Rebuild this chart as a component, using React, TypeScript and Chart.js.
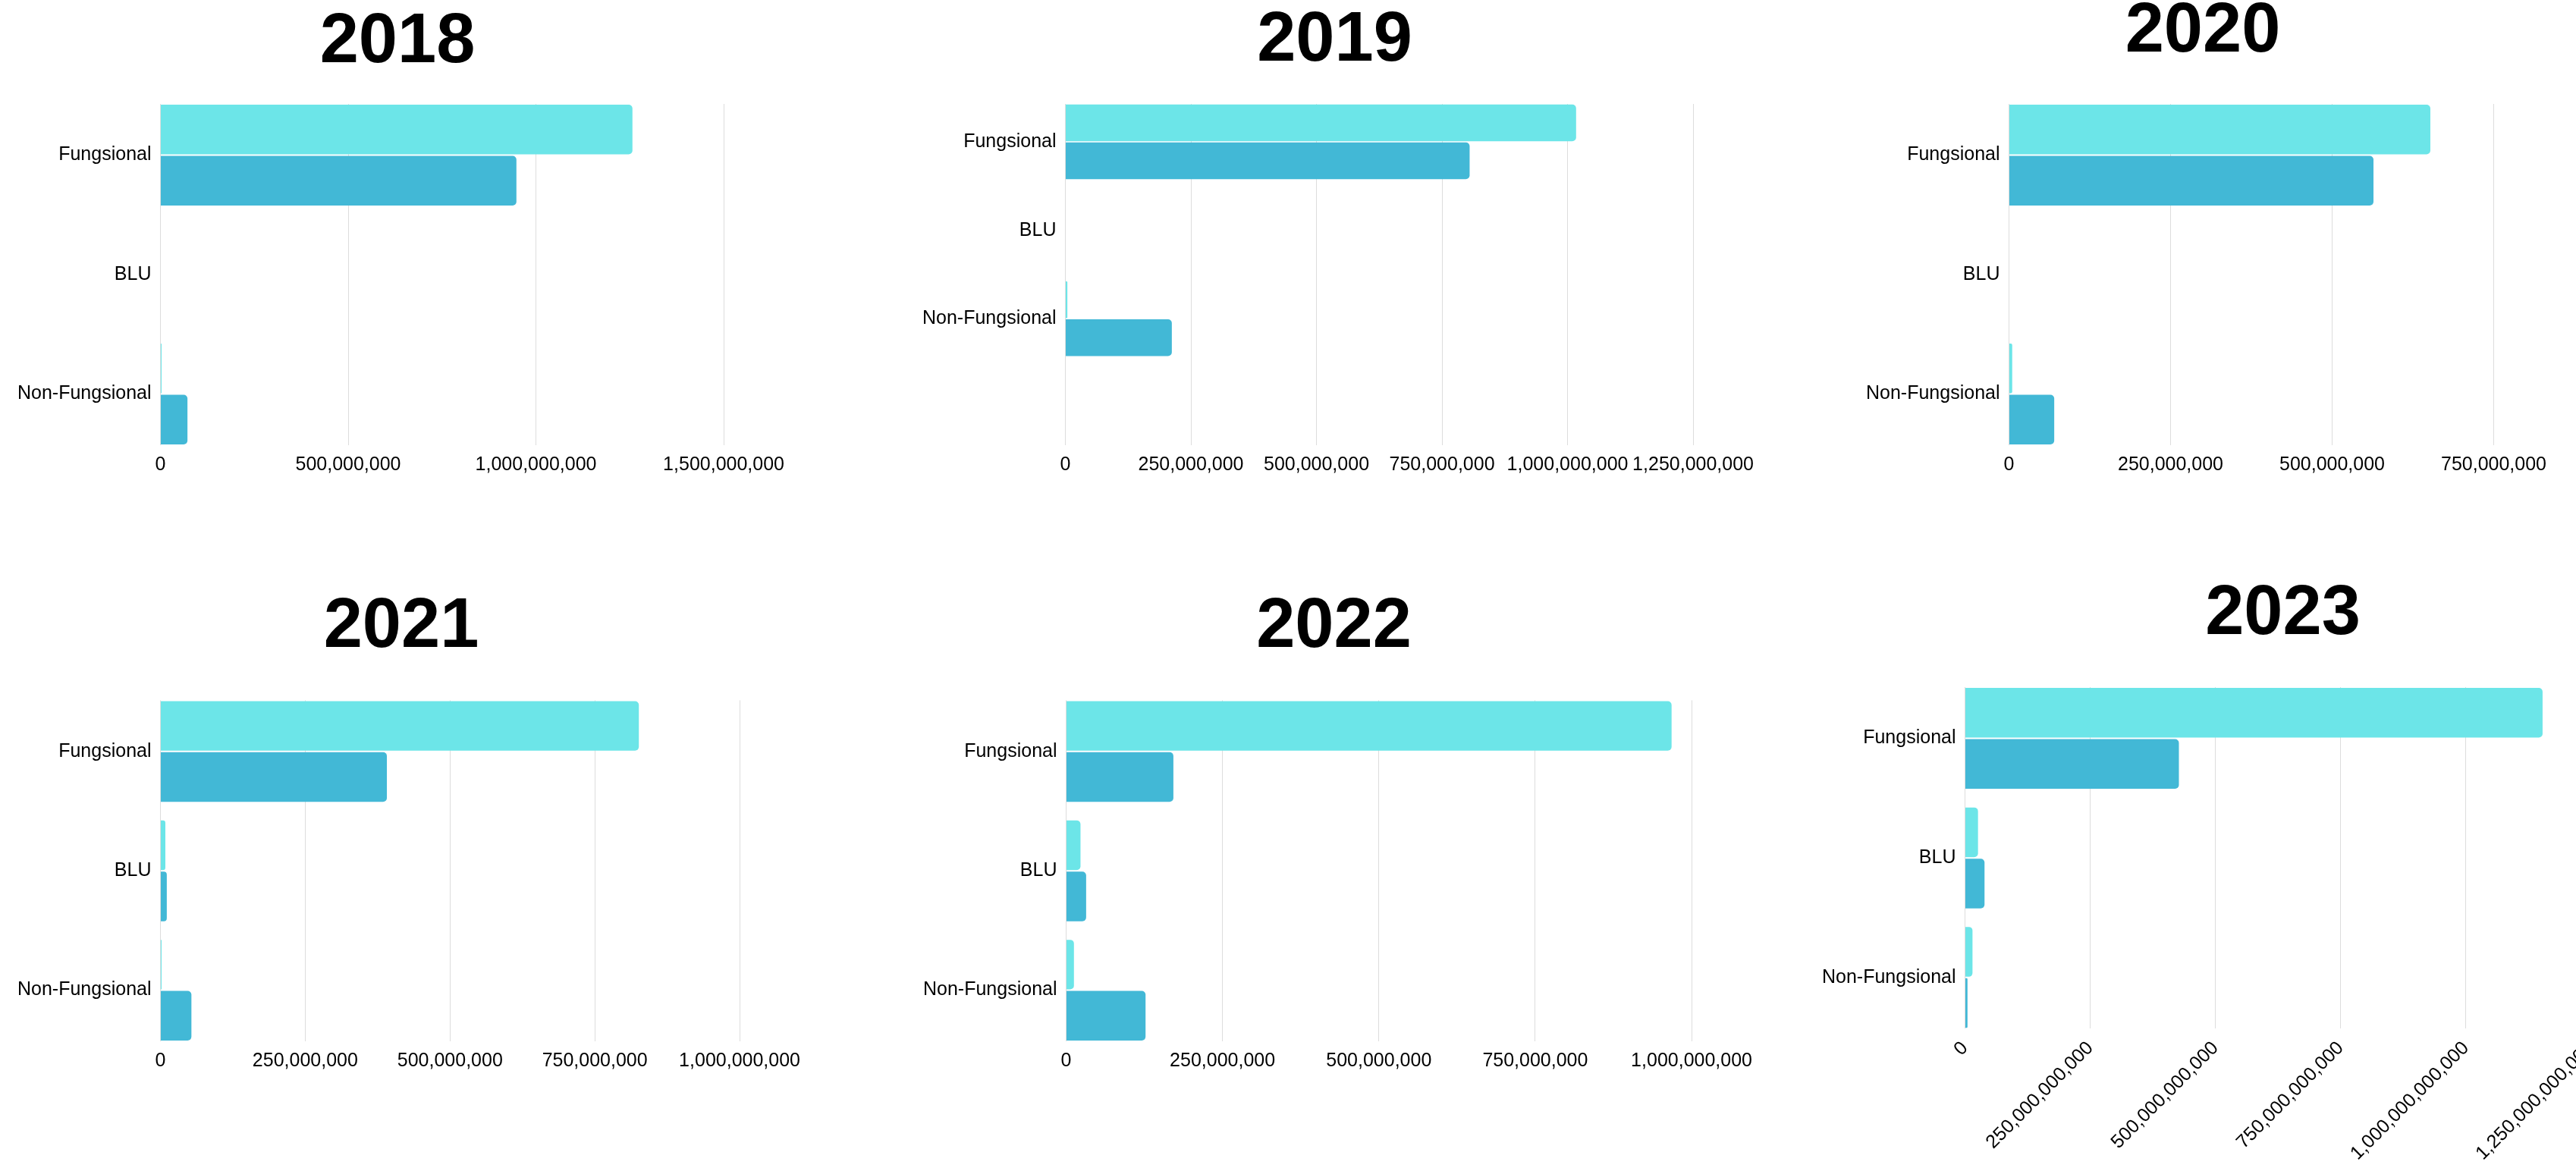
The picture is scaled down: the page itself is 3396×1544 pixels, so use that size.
import React, { useEffect, useRef } from "react";
import { Chart, registerables } from "chart.js";

Chart.register(...registerables);

// ---------- data ----------
const YEARS = ["2018", "2019", "2020", "2021", "2022", "2023"];

const CATEGORIES_2018 = ["Fungsional", "BLU", "Non-Fungsional"];
const CATEGORIES_2019 = ["Fungsional", "BLU", "Non-Fungsional", ""];
const CATEGORIES_2020 = ["Fungsional", "BLU", "Non-Fungsional"];
const CATEGORIES_2021 = ["Fungsional", "BLU", "Non-Fungsional"];
const CATEGORIES_2022 = ["Fungsional", "BLU", "Non-Fungsional"];
const CATEGORIES_2023 = ["Fungsional", "BLU", "Non-Fungsional"];

// first (light) series
const SERIES_A_2018 = [1257000000, 0, 3000000];
const SERIES_A_2019 = [1017000000, 0, 4000000, 0];
const SERIES_A_2020 = [652000000, 0, 5000000];
const SERIES_A_2021 = [826000000, 8500000, 2000000];
const SERIES_A_2022 = [968000000, 23000000, 12500000];
const SERIES_A_2023 = [1153000000000, 26000000000, 15000000000];

// second (dark) series
const SERIES_B_2018 = [948000000, 0, 72000000];
const SERIES_B_2019 = [805000000, 0, 212000000, 0];
const SERIES_B_2020 = [564000000, 0, 70000000];
const SERIES_B_2021 = [391000000, 11000000, 53500000];
const SERIES_B_2022 = [171500000, 32000000, 127000000];
const SERIES_B_2023 = [427000000000, 39000000000, 5000000000];

// value-axis ticks
const X_MAX = [1500000000, 1250000000, 750000000, 1000000000, 1000000000, 1250000000000];
const X_STEP = [500000000, 250000000, 250000000, 250000000, 250000000, 250000000000];
const X_ROTATION = [0, 0, 0, 0, 0, 45];

const SERIES_NAMES = ["Series A", "Series B"];

const CATEGORIES = [CATEGORIES_2018, CATEGORIES_2019, CATEGORIES_2020, CATEGORIES_2021, CATEGORIES_2022, CATEGORIES_2023];
const SERIES_A = [SERIES_A_2018, SERIES_A_2019, SERIES_A_2020, SERIES_A_2021, SERIES_A_2022, SERIES_A_2023];
const SERIES_B = [SERIES_B_2018, SERIES_B_2019, SERIES_B_2020, SERIES_B_2021, SERIES_B_2022, SERIES_B_2023];

// ---------- styling / layout ----------
const COLOR_A = "#6ce5e8";
const COLOR_B = "#42b8d6";
const GRID_COLOR = "#dddddd";
const FONT = "'Liberation Sans', Arial, Helvetica, sans-serif";
const GROUP_FRACTION = 6 / 7;

type Box = {
  left: number;
  top: number;
  width: number;
  height: number;
  padRight: number;
  rightBox: number;
  titleTop: number;
  titleBottom: number;
};

const BOXES: Box[] = [
  { left: 11, top: -20, width: 1026, height: 651, padRight: 0, rightBox: 0, titleTop: 21.2, titleBottom: 25.4 },
  { left: 1204, top: -20, width: 1111, height: 651, padRight: 0, rightBox: 0, titleTop: 19.4, titleBottom: 27.2 },
  { left: 2448, top: -20, width: 912, height: 651, padRight: 0, rightBox: 0, titleTop: 7.1, titleBottom: 39.5 },
  { left: 11, top: 750, width: 1047, height: 667, padRight: 11, rightBox: 0, titleTop: 22.8, titleBottom: 40.2 },
  { left: 1205, top: 750, width: 1108, height: 667, padRight: 1, rightBox: 0, titleTop: 22.8, titleBottom: 40.2 },
  { left: 2390, top: 750, width: 1239, height: 789, padRight: 0, rightBox: 213, titleTop: 5.8, titleBottom: 39.8 },
];

function YearChart({ idx }: { idx: number }) {
  const ref = useRef<HTMLCanvasElement | null>(null);

  useEffect(() => {
    if (!ref.current) return;
    const cats = CATEGORIES[idx];
    const box = BOXES[idx];
    const half = GROUP_FRACTION / 2;
    const rot = X_ROTATION[idx];
    const tickFont = { family: FONT, size: 25 };

    const scales: any = {
      x: {
        type: "linear",
        min: 0,
        max: X_MAX[idx],
        grid: {
          color: GRID_COLOR,
          drawTicks: true,
          tickLength: 8,
          tickColor: "rgba(0,0,0,0)",
        },
        border: { display: false },
        ticks: {
          stepSize: X_STEP[idx],
          autoSkip: false,
          minRotation: rot,
          maxRotation: rot,
          padding: 3,
          color: "#000",
          font: tickFont,
          callback: (v: any) => Number(v).toLocaleString("en-US"),
        },
      },
      y: {
        type: "linear",
        reverse: true,
        offset: false,
        min: -half,
        max: cats.length - 1 + half,
        grid: { display: false, drawTicks: false, offset: false },
        border: { display: false },
        ticks: {
          stepSize: 1,
          includeBounds: false,
          autoSkip: false,
          padding: 12,
          color: "#000",
          font: tickFont,
          callback: (v: any) => {
            const n = Number(v);
            return Number.isInteger(n) && n >= 0 && n < cats.length ? cats[n] : "";
          },
        },
      },
    };
    if (box.rightBox > 0) {
      scales.pad = {
        type: "linear",
        position: "right",
        display: true,
        offset: false,
        grid: { display: false, drawTicks: false },
        border: { display: false },
        ticks: { display: false },
        afterFit: (s: any) => {
          s.width = box.rightBox;
        },
      };
    }

    const chart = new Chart(ref.current, {
      type: "bar",
      data: {
        datasets: [
          {
            label: SERIES_NAMES[0],
            data: cats.map((_, i) => ({ x: SERIES_A[idx][i], y: i })),
            backgroundColor: COLOR_A,
            xAxisID: "x",
            yAxisID: "y",
          },
          {
            label: SERIES_NAMES[1],
            data: cats.map((_, i) => ({ x: SERIES_B[idx][i], y: i })),
            backgroundColor: COLOR_B,
            xAxisID: "x",
            yAxisID: "y",
          },
        ] as any,
      },
      options: {
        indexAxis: "y",
        animation: false,
        responsive: true,
        maintainAspectRatio: false,
        datasets: {
          bar: {
            barPercentage: 0.97,
            categoryPercentage: GROUP_FRACTION,
            borderRadius: 5,
            borderSkipped: "start",
          },
        } as any,
        layout: { padding: { left: 0, top: 0, bottom: 0, right: box.padRight } },
        scales,
        plugins: {
          legend: { display: false },
          tooltip: { enabled: false },
          title: {
            display: true,
            text: YEARS[idx],
            color: "#000",
            font: { family: FONT, size: 92, weight: "bold", lineHeight: 1.2 },
            padding: { top: box.titleTop, bottom: box.titleBottom },
          },
        },
      } as any,
    });
    return () => chart.destroy();
  }, [idx]);

  const box = BOXES[idx];
  return (
    <div
      style={{
        position: "absolute",
        left: box.left,
        top: box.top,
        width: box.width,
        height: box.height,
      }}
    >
      <canvas ref={ref} />
    </div>
  );
}

export default function App() {
  return (
    <div
      style={{
        position: "absolute",
        left: 0,
        top: 0,
        width: 3396,
        height: 1544,
        overflow: "hidden",
        background: "#ffffff",
      }}
    >
      {YEARS.map((_, i) => (
        <YearChart key={i} idx={i} />
      ))}
    </div>
  );
}
